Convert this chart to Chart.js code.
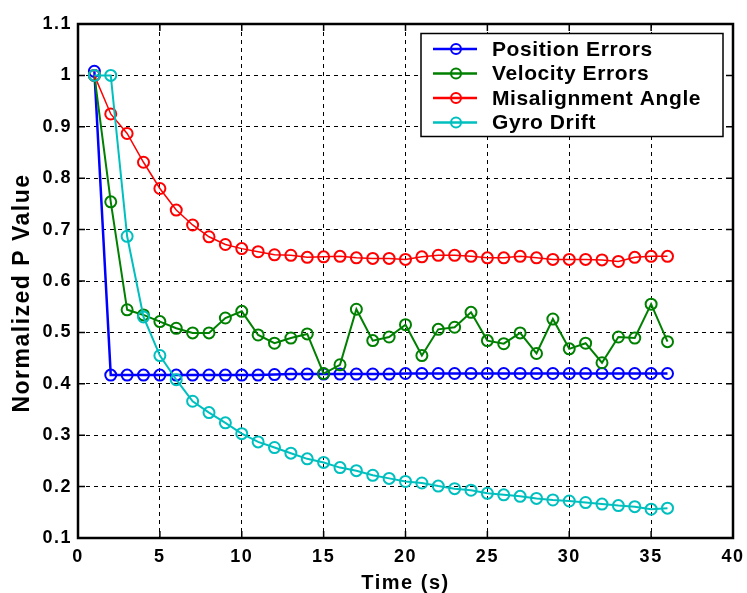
<!DOCTYPE html>
<html>
<head>
<meta charset="utf-8">
<script src="https://cdn.jsdelivr.net/npm/chart.js@4/dist/chart.umd.min.js"></script>
<style>
  html, body { margin: 0; padding: 0; background: #fff; }
</style>
</head>
<body>
<canvas id="chartCanvas" width="747" height="593"></canvas>
<script>
// time axis (s)
const timeSec = [1, 2, 3, 4, 5, 6, 7, 8, 9, 10, 11, 12, 13, 14, 15, 16, 17, 18,
  19, 20, 21, 22, 23, 24, 25, 26, 27, 28, 29, 30, 31, 32, 33, 34, 35, 36];

const positionErrors = [1.008, 0.417, 0.417, 0.417, 0.417, 0.417, 0.417, 0.417, 0.417, 0.417, 0.417, 0.418,
  0.419, 0.419, 0.419, 0.419, 0.419, 0.419, 0.419, 0.420, 0.420, 0.420, 0.420, 0.420,
  0.420, 0.420, 0.420, 0.420, 0.420, 0.420, 0.420, 0.420, 0.420, 0.420, 0.420, 0.420];

const velocityErrors = [1.0, 0.754, 0.544, 0.534, 0.521, 0.508, 0.499, 0.499, 0.528, 0.541, 0.495, 0.479,
  0.489, 0.497, 0.420, 0.437, 0.545, 0.484, 0.491, 0.515, 0.455, 0.506, 0.510, 0.539,
  0.484, 0.478, 0.499, 0.459, 0.526, 0.468, 0.479, 0.441, 0.491, 0.489, 0.555, 0.482];

const misalignmentAngle = [1.0, 0.925, 0.887, 0.831, 0.780, 0.738, 0.709, 0.686, 0.671, 0.663, 0.657, 0.651,
  0.650, 0.646, 0.647, 0.648, 0.645, 0.644, 0.644, 0.642, 0.647, 0.650, 0.650, 0.648,
  0.645, 0.645, 0.648, 0.645, 0.642, 0.642, 0.642, 0.641, 0.638, 0.646, 0.648, 0.648];

const gyroDrift = [1.0, 1.0, 0.687, 0.530, 0.455, 0.408, 0.366, 0.344, 0.324, 0.303, 0.287, 0.276,
  0.265, 0.254, 0.247, 0.237, 0.231, 0.222, 0.216, 0.210, 0.207, 0.201, 0.196, 0.193,
  0.187, 0.184, 0.181, 0.177, 0.174, 0.172, 0.169, 0.166, 0.163, 0.161, 0.156, 0.158];

const xTicks = [0, 5, 10, 15, 20, 25, 30, 35, 40];
const yTicks = [0.1, 0.2, 0.3, 0.4, 0.5, 0.6, 0.7, 0.8, 0.9, 1.0, 1.1];

const yTitle = "Normalized P Value";

const FONT = "'Liberation Sans', Arial, Helvetica, sans-serif";

function toPoints(values) {
  return timeSec.map((t, i) => ({ x: t, y: values[i] }));
}

function series(label, values, color, width, order) {
  return {
    label,
    data: toPoints(values),
    borderColor: color,
    borderWidth: width,
    pointRadius: 5.5,
    pointBorderWidth: 2,
    pointBorderColor: color,
    pointBackgroundColor: "rgba(0,0,0,0)",
    showLine: true,
    tension: 0,
    order
  };
}

// box, inner ticks, y title and legend in MATLAB style
const framePlugin = {
  id: "frame",
  beforeDraw(chart) {
    chart.ctx.letterSpacing = "1.5px";
  },
  afterDraw(chart) {
    const { ctx, chartArea: a, scales: { x, y } } = chart;
    ctx.save();
    ctx.letterSpacing = "0px";
    ctx.strokeStyle = "#000";
    ctx.lineWidth = 1.5;
    ctx.beginPath();
    x.ticks.forEach(t => {
      const px = x.getPixelForValue(t.value);
      ctx.moveTo(px, a.bottom); ctx.lineTo(px, a.bottom - 7);
      ctx.moveTo(px, a.top); ctx.lineTo(px, a.top + 7);
    });
    y.ticks.forEach(t => {
      const py = y.getPixelForValue(t.value);
      ctx.moveTo(a.left, py); ctx.lineTo(a.left + 7, py);
      ctx.moveTo(a.right, py); ctx.lineTo(a.right - 7, py);
    });
    ctx.stroke();
    ctx.lineWidth = 2.5;
    ctx.strokeRect(a.left, a.top, a.right - a.left, a.bottom - a.top);

    // y axis title
    ctx.save();
    ctx.translate(23, (a.top + a.bottom) / 2 + 12);
    ctx.rotate(-Math.PI / 2);
    ctx.font = "bold 23px " + FONT;
    ctx.letterSpacing = "1.5px";
    ctx.fillStyle = "#000";
    ctx.textAlign = "center";
    ctx.textBaseline = "middle";
    ctx.fillText(yTitle, 0, 0);
    ctx.restore();

    // legend
    const bw = 302, bh = 103;
    const bx = a.right - 10 - bw, by = a.top + 9.5;
    ctx.fillStyle = "#fff";
    ctx.fillRect(bx, by, bw, bh);
    ctx.lineWidth = 1.5;
    ctx.strokeRect(bx, by, bw, bh);
    ctx.font = "bold 21px " + FONT;
    ctx.letterSpacing = "0.6px";
    ctx.textBaseline = "middle";
    ctx.textAlign = "left";
    chart.data.datasets.forEach((ds, i) => {
      const ry = by + 15.5 + i * 24.5;
      ctx.strokeStyle = ds.borderColor;
      ctx.lineWidth = 2.5;
      ctx.beginPath();
      ctx.moveTo(bx + 12, ry); ctx.lineTo(bx + 56, ry);
      ctx.stroke();
      ctx.lineWidth = 2;
      ctx.beginPath();
      ctx.arc(bx + 35, ry, 5, 0, Math.PI * 2);
      ctx.stroke();
      ctx.fillStyle = "#000";
      ctx.fillText(ds.label, bx + 71, ry + 1);
    });
    ctx.restore();
  }
};

const ctx = document.getElementById("chartCanvas").getContext("2d");

new Chart(ctx, {
  type: "scatter",
  data: {
    datasets: [
      series("Position Errors", positionErrors, "#0000ff", 2.5, 3),
      series("Velocity Errors", velocityErrors, "#008000", 2, 2),
      series("Misalignment Angle", misalignmentAngle, "#ff0000", 1.5, 1),
      series("Gyro Drift", gyroDrift, "#00bfbf", 2, 0)
    ]
  },
  options: {
    responsive: false,
    animation: false,
    events: [],
    layout: { padding: { left: 0, top: 24, right: 14, bottom: 0 } },
    plugins: {
      legend: { display: false },
      tooltip: { enabled: false }
    },
    scales: {
      x: {
        type: "linear",
        min: 0,
        max: 40,
        afterBuildTicks: scale => { scale.ticks = xTicks.map(v => ({ value: v })); },
        afterFit: scale => {
          scale.height = 55;
          scale.paddingLeft = 0;
          scale.paddingRight = 0;
        },
        grid: { color: "#000", lineWidth: 1, drawTicks: false },
        border: { display: false, dash: [4, 4] },
        ticks: {
          color: "#000",
          padding: 8,
          maxRotation: 0,
          font: { family: FONT, size: 18, weight: "bold" },
          callback: v => String(v)
        },
        title: {
          display: true,
          text: "Time (s)",
          color: "#000",
          padding: { top: 0, bottom: 0 },
          font: { family: FONT, size: 20, weight: "bold", lineHeight: 1 }
        }
      },
      y: {
        type: "linear",
        min: 0.1,
        max: 1.1,
        afterBuildTicks: scale => { scale.ticks = yTicks.map(v => ({ value: v })); },
        afterFit: scale => {
          scale.width = 78;
          scale.paddingTop = 0;
          scale.paddingBottom = 0;
        },
        grid: { color: "#000", lineWidth: 1, drawTicks: false },
        border: { display: false, dash: [4, 4] },
        ticks: {
          color: "#000",
          padding: 6,
          font: { family: FONT, size: 18, weight: "bold" },
          callback: v => String(Number(v.toFixed(1)))
        }
      }
    }
  },
  plugins: [framePlugin]
});
</script>
</body>
</html>
